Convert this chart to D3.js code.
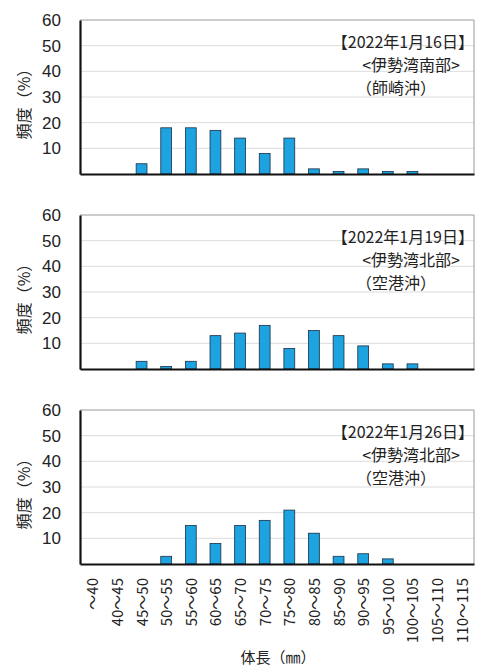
<!DOCTYPE html>
<html>
<head>
<meta charset="utf-8">
<script src="https://cdn.jsdelivr.net/npm/d3@7"></script>
<style>
  body { margin: 0; background: #fff; }
  svg { display: block; }
  .tick text { font-family: "Liberation Sans", Arial, sans-serif; }
</style>
</head>
<body>
<svg id="chart" width="477" height="668"></svg>
<script>
// size classes (mm)
const categories = ["～40", "40～45", "45～50", "50～55", "55～60", "60～65", "65～70", "70～75",
  "75～80", "80～85", "85～90", "90～95", "95～100", "100～105", "105～110", "110～115"];

// frequency (%) per survey
const jan16 = [0, 0, 4, 18, 18, 17, 14, 8, 14, 2, 1, 2, 1, 1, 0, 0];
const jan19 = [0, 0, 3, 1, 3, 13, 14, 17, 8, 15, 13, 9, 2, 2, 0, 0];
const jan26 = [0, 0, 0, 3, 15, 8, 15, 17, 21, 12, 3, 4, 2, 0, 0, 0];

const yTicks = [10, 20, 30, 40, 50, 60];
const dates = ["【2022年1月16日】", "【2022年1月19日】", "【2022年1月26日】"];
const areas = ["<伊勢湾南部>", "<伊勢湾北部>", "<伊勢湾北部>"];
const spots = ["（師崎沖）", "（空港沖）", "（空港沖）"];

const jp = '"Noto Sans CJK JP", sans-serif';

var svg = d3.select("#chart");
var left = 80, right = 474, panelH = 154;
var tops = [20, 215, 410];
var series = [jan16, jan19, jan26];

var x = d3.scaleBand()
  .domain(categories)
  .range([left, right])
  .paddingInner(0.56)
  .paddingOuter(0.28);

series.forEach(function(vals, p) {
  var top = tops[p], bottom = top + panelH;
  var y = d3.scaleLinear().domain([0, 60]).range([bottom, top]);
  var g = svg.append("g");

  // grid
  g.selectAll("line.grid")
    .data(yTicks.slice(0, -1))
    .enter().append("line")
    .attr("x1", left).attr("x2", right)
    .attr("y1", d => y(d)).attr("y2", d => y(d))
    .attr("stroke", "#dcdcdc").attr("stroke-width", 1);

  // frame (top / right)
  g.append("path")
    .attr("d", `M${left},${top}H${right}V${bottom}`)
    .attr("fill", "none").attr("stroke", "#999").attr("stroke-width", 1);

  // bars
  g.selectAll("rect.bar")
    .data(vals.map((v, i) => ({c: categories[i], v: v})).filter(d => d.v > 0))
    .enter().append("rect")
    .attr("class", "bar")
    .attr("x", d => x(d.c))
    .attr("width", x.bandwidth())
    .attr("y", d => y(d.v))
    .attr("height", d => y(0) - y(d.v))
    .attr("fill", "#1ca3e0")
    .attr("stroke", "#1b2f45")
    .attr("stroke-width", 0.8);

  // y axis
  var yAxis = g.append("g")
    .attr("transform", `translate(${left},0)`)
    .call(d3.axisLeft(y).tickValues(yTicks).tickSize(0).tickPadding(19));
  yAxis.select(".domain").attr("stroke", "#111").attr("stroke-width", 2.2);
  yAxis.selectAll("text").attr("font-size", 17).attr("fill", "#222");

  // x axis line
  var xAxis = g.append("g")
    .attr("transform", `translate(0,${bottom})`)
    .call(d3.axisBottom(x).tickSize(0).tickFormat(""));
  xAxis.select(".domain").attr("stroke", "#111").attr("stroke-width", 2.2);

  // y title
  svg.append("text")
    .attr("transform", `translate(30,${top + 80}) rotate(-90)`)
    .attr("text-anchor", "middle")
    .attr("font-family", jp).attr("font-size", 16).attr("fill", "#222")
    .text("頻度（%）");

  // annotation
  var note = svg.append("g").attr("font-family", jp).attr("fill", "#222").attr("font-size", 16);
  note.append("text").attr("x", 474).attr("y", top + 28)
    .attr("text-anchor", "end").text(dates[p]);
  note.append("text").attr("x", 460).attr("y", top + 51)
    .attr("text-anchor", "end").text(areas[p]);
  note.append("text").attr("x", 396).attr("y", top + 74)
    .attr("text-anchor", "middle").text(spots[p]);

  // category labels under last panel
  if (p === series.length - 1) {
    svg.append("g").selectAll("text")
      .data(categories)
      .enter().append("text")
      .attr("transform", d => `translate(${x(d) + x.bandwidth() / 2 + 6},${bottom + 14}) rotate(-90)`)
      .attr("text-anchor", "end")
      .attr("font-family", jp).attr("font-size", 15).attr("fill", "#222")
      .text(d => d);
  }
});

svg.append("text")
  .attr("x", 278).attr("y", 663)
  .attr("text-anchor", "middle")
  .attr("font-family", jp).attr("font-size", 15).attr("fill", "#222")
  .text("体長（㎜）");
</script>
</body>
</html>
